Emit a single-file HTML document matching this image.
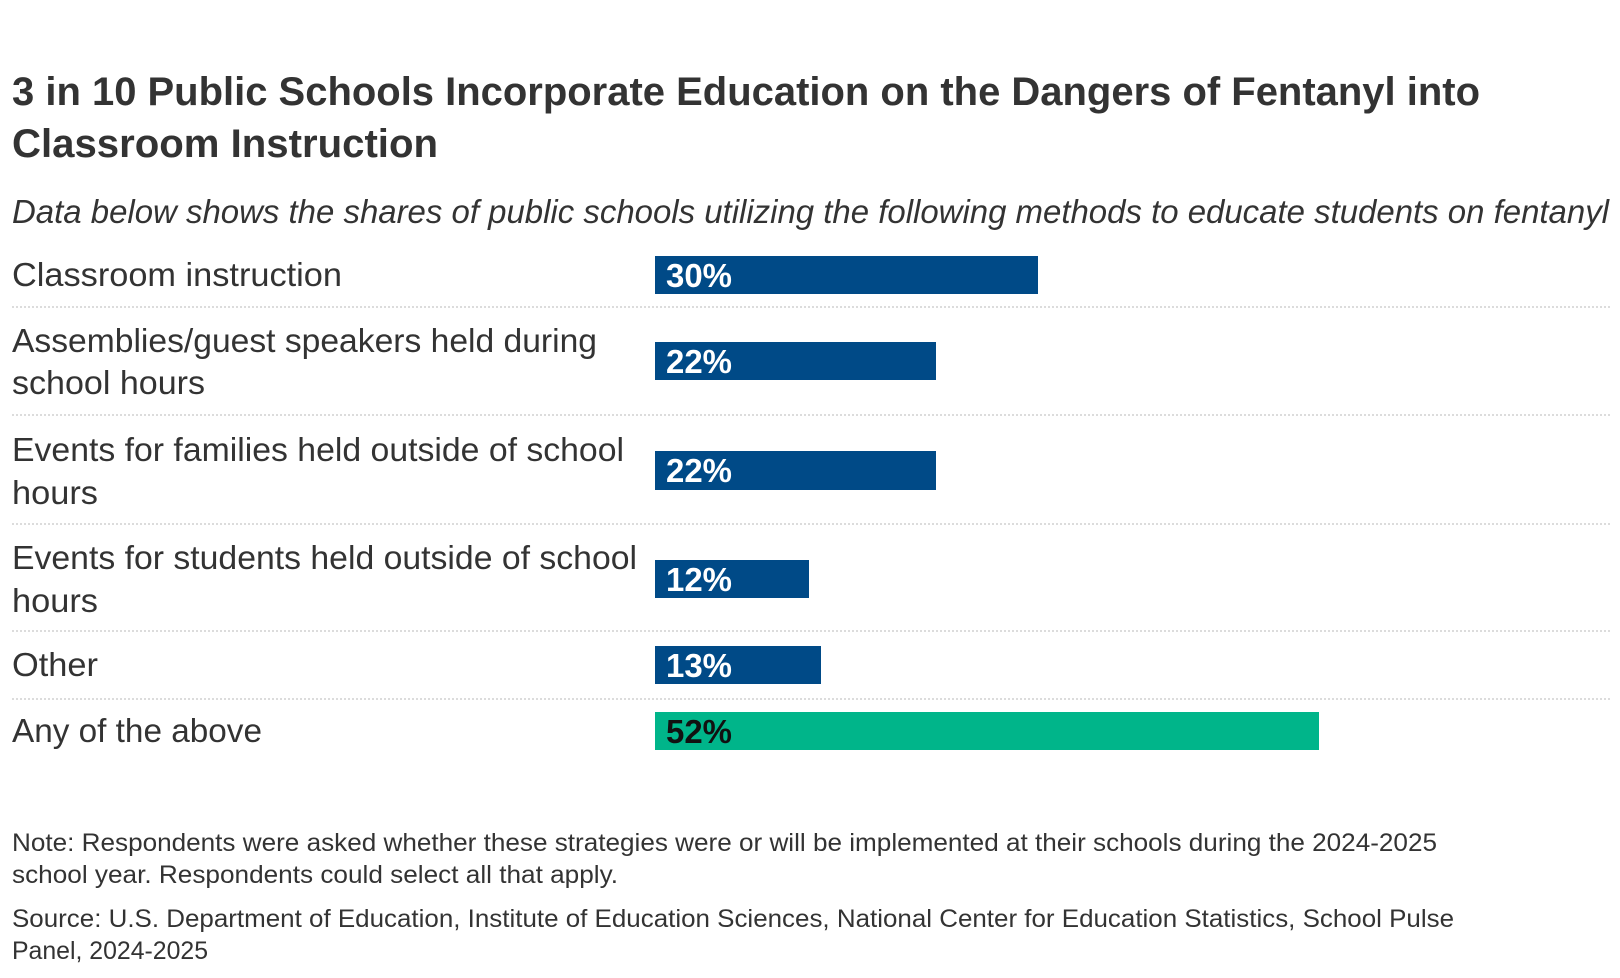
<!DOCTYPE html>
<html><head><meta charset="utf-8"><style>html,body{margin:0;padding:0;background:#fff}svg{display:block}</style></head>
<body>
<svg width="1620" height="978" viewBox="0 0 1620 978" xmlns="http://www.w3.org/2000/svg" font-family="Liberation Sans, sans-serif">
<g fill="#333" font-weight="bold" font-size="40">
<text x="12" y="105" textLength="1468" lengthAdjust="spacingAndGlyphs">3 in 10 Public Schools Incorporate Education on the Dangers of Fentanyl into</text>
<text x="12" y="157" textLength="426" lengthAdjust="spacingAndGlyphs">Classroom Instruction</text>
</g>
<text x="12" y="223" fill="#333" font-style="italic" font-size="33" textLength="1597" lengthAdjust="spacingAndGlyphs">Data below shows the shares of public schools utilizing the following methods to educate students on fentanyl</text>
<g stroke="#c8c8c8" stroke-width="1.2" stroke-dasharray="2,2">
<line x1="12" y1="307" x2="1612" y2="307"/><line x1="12" y1="415" x2="1612" y2="415"/>
<line x1="12" y1="524" x2="1612" y2="524"/><line x1="12" y1="631" x2="1612" y2="631"/>
<line x1="12" y1="699" x2="1612" y2="699"/>
</g>
<g fill="#333" font-size="33">
<text x="12" y="286" textLength="330" lengthAdjust="spacingAndGlyphs">Classroom instruction</text>
<text x="12" y="352" textLength="585" lengthAdjust="spacingAndGlyphs">Assemblies/guest speakers held during</text>
<text x="12" y="394" textLength="193" lengthAdjust="spacingAndGlyphs">school hours</text>
<text x="12" y="461" textLength="612" lengthAdjust="spacingAndGlyphs">Events for families held outside of school</text>
<text x="12" y="504" textLength="86" lengthAdjust="spacingAndGlyphs">hours</text>
<text x="12" y="569" textLength="625" lengthAdjust="spacingAndGlyphs">Events for students held outside of school</text>
<text x="12" y="612" textLength="86" lengthAdjust="spacingAndGlyphs">hours</text>
<text x="12" y="676" textLength="86" lengthAdjust="spacingAndGlyphs">Other</text>
<text x="12" y="742" textLength="250" lengthAdjust="spacingAndGlyphs">Any of the above</text>
</g>
<g fill="#004a87">
<rect x="655" y="256" width="383" height="38"/>
<rect x="655" y="342" width="281" height="38"/>
<rect x="655" y="451" width="281" height="39"/>
<rect x="655" y="560" width="154" height="38"/>
<rect x="655" y="646" width="166" height="38"/>
</g>
<rect x="655" y="712" width="664" height="38" fill="#00b58a"/>
<g font-weight="bold" font-size="33" fill="#fff">
<text x="666" y="287" textLength="66" lengthAdjust="spacingAndGlyphs">30%</text>
<text x="666" y="373" textLength="66" lengthAdjust="spacingAndGlyphs">22%</text>
<text x="666" y="482" textLength="66" lengthAdjust="spacingAndGlyphs">22%</text>
<text x="666" y="591" textLength="66" lengthAdjust="spacingAndGlyphs">12%</text>
<text x="666" y="677" textLength="66" lengthAdjust="spacingAndGlyphs">13%</text>
<text x="666" y="743" textLength="66" lengthAdjust="spacingAndGlyphs" fill="#111">52%</text>
</g>
<g fill="#333" font-size="25">
<text x="12" y="851" textLength="1425" lengthAdjust="spacingAndGlyphs">Note: Respondents were asked whether these strategies were or will be implemented at their schools during the 2024-2025</text>
<text x="12" y="883" textLength="606" lengthAdjust="spacingAndGlyphs">school year. Respondents could select all that apply.</text>
<text x="12" y="927" textLength="1442" lengthAdjust="spacingAndGlyphs">Source: U.S. Department of Education, Institute of Education Sciences, National Center for Education Statistics, School Pulse</text>
<text x="12" y="959" textLength="196" lengthAdjust="spacingAndGlyphs">Panel, 2024-2025</text>
</g>
</svg>
</body></html>
